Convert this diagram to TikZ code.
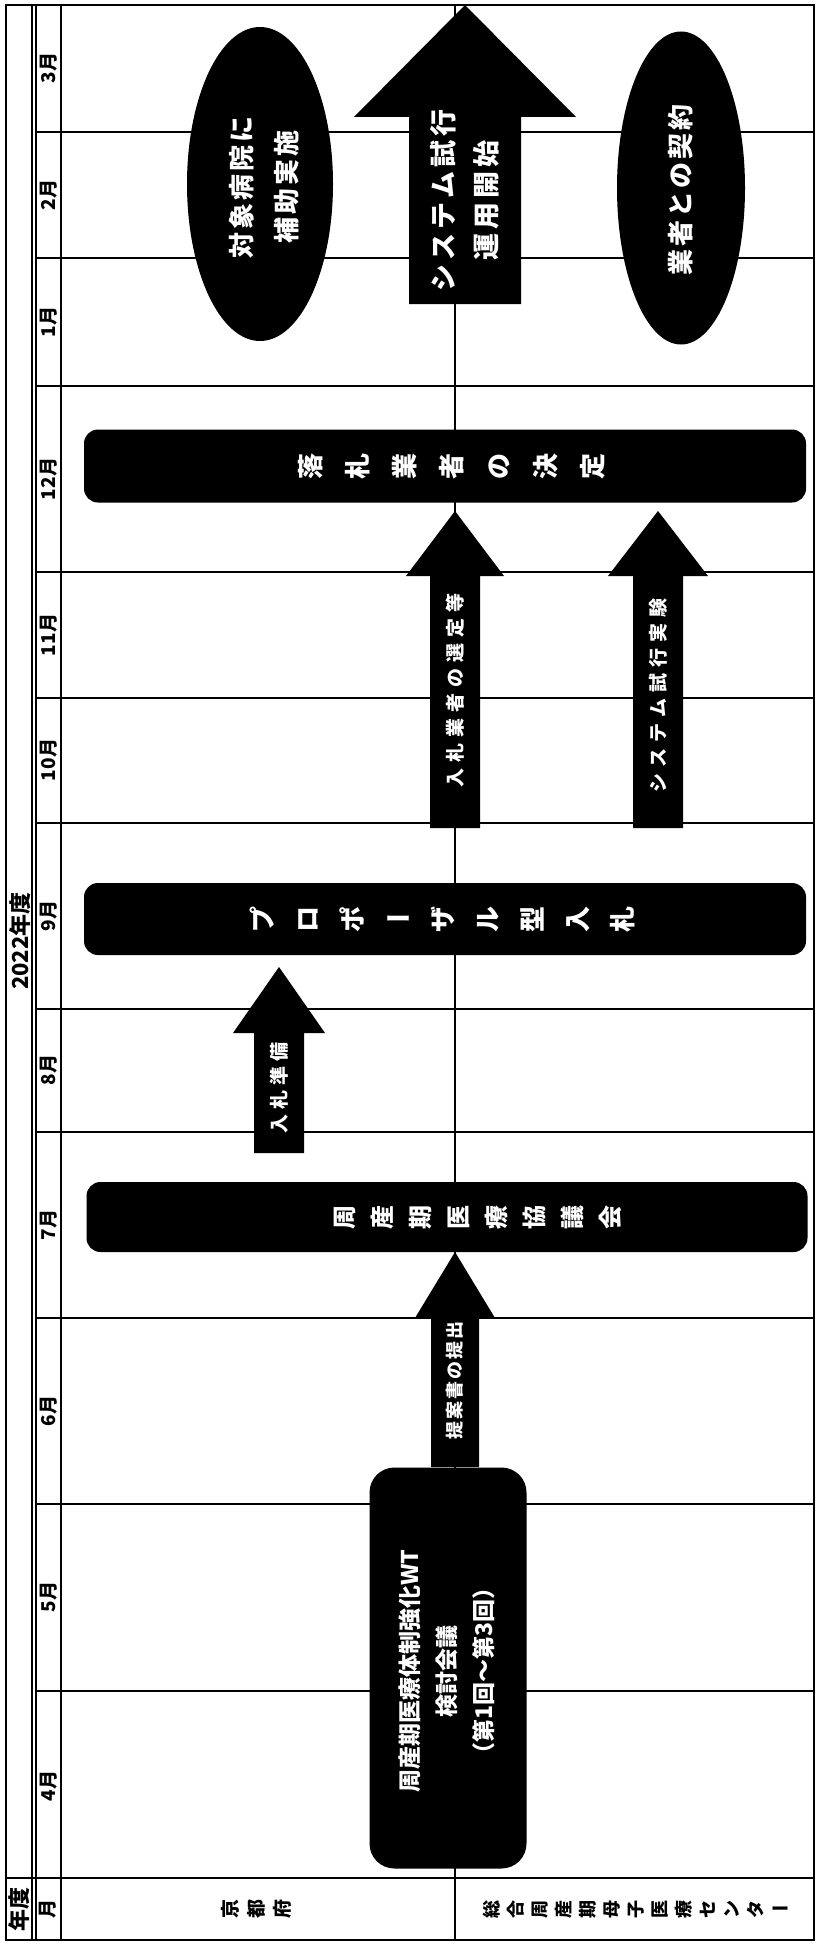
\documentclass[tikz,border=0pt]{standalone}
\usepackage{fontspec}
\setmainfont{Noto Sans CJK JP}
\usetikzlibrary{shapes.geometric}
\ExplSyntaxOn
\NewDocumentCommand\vtxt{O{0pt} m}
 {
  \bool_set_true:N \l_tmpa_bool
  \tl_map_inline:nn {#2}
   {
    \bool_if:NF \l_tmpa_bool { \hspace*{#1} }
    \bool_set_false:N \l_tmpa_bool
    \str_if_eq:nnTF {##1} {ー}
      { \makebox[1em]{##1} }
      { \rotatebox[origin=c]{90}{\vrule~height~.88em~depth~.12em~width~0pt \makebox[1em]{##1}} }
   }
 }
\NewDocumentCommand\ltr{O{0pt} m}
 {
  \bool_set_true:N \l_tmpa_bool
  \tl_map_inline:nn {#2}
   {
    \bool_if:NF \l_tmpa_bool { \hspace*{#1} }
    \bool_set_false:N \l_tmpa_bool
    ##1
   }
 }
\ExplSyntaxOff
\newcommand\fsz[1]{\fontsize{#1}{#1}\selectfont\bfseries}
\newcommand\blockarrow[6]{\fill ({#1},{#2}) -- ({#1+#5},{#3}) -- ({#1+#6},{#3}) -- ({#1+#6},{#4}) -- ({#1-#6},{#4}) -- ({#1-#6},{#3}) -- ({#1-#5},{#3}) -- cycle;}
\tikzset{
  gridline/.style={line width=1.3pt},
  heavyline/.style={line width=2.6pt},
  rbox/.style={fill=black, rounded corners=14pt, inner sep=0pt},
  oval/.style={ellipse, fill=black, inner sep=0pt},
  wtxt/.style={text=white, inner sep=0pt},
  rtxt/.style={rotate=90, inner sep=0pt},
}
\begin{document}
\begin{tikzpicture}[x=1pt,y=-1pt]
\useasboundingbox (0,0) rectangle (817,1945);
% table grid
\foreach \yy in {132,258,386,572,698,823,1009,1318,1504,1691}
  \draw[gridline] (36,\yy) -- (814,\yy);
\draw[heavyline] (36,1132) -- (814,1132);
\draw[heavyline] (6,1878) -- (814,1878);
\draw[gridline] (32,5) -- (32,1940);
\draw[gridline] (36,5) -- (36,1940);
\draw[gridline] (61,5) -- (61,1940);
\draw[gridline] (455,5) -- (455,1940);
\draw[heavyline] (6,5) rectangle (814,1940);
% year / month labels
\node[rtxt, font=\fsz{22}] (year) at (20,941) {2022年度};
\foreach \m/\yy in {3月/68, 2月/195, 1月/322, 12月/479, 11月/635, 10月/760, 9月/916, 8月/1070, 7月/1225, 6月/1411, 5月/1597, 4月/1786}
  \node[rtxt, font=\fsz{19}] (m\yy) at (49,\yy) {\m};
\node[rtxt, font=\fsz{22}] (hyear) at (19,1909) {年度};
\node[rtxt, font=\fsz{19}] (hmonth) at (48,1909) {月};
\node[font=\fsz{19}, inner sep=0pt] (kyoto) at (256,1909) {\vtxt[7pt]{京都府}};
\node[font=\fsz{18}, inner sep=0pt] (center) at (636,1909) {\vtxt[6pt]{総合周産期母子医療センター}};
% top: ellipses and big arrow
\node[oval, minimum width=146pt, minimum height=314pt] (e1) at (260,184) {};
\node[rtxt, wtxt, font={\fontsize{26}{45}\selectfont\bfseries}, align=center] (e1t) at (264,187) {\ltr[3pt]{対象病院に}\\\ltr[3pt]{補助実施}};
\node[oval, minimum width=128pt, minimum height=313pt] (e2) at (681,188) {};
\node[rtxt, wtxt, font=\fsz{26}] (e2t) at (681,190) {\ltr[3pt]{業者との契約}};
\blockarrow{465}{5}{117}{304}{111}{56}
\node[rtxt, wtxt, font={\fontsize{27}{43}\selectfont\bfseries}, align=center] (bigt) at (465,200) {\ltr[4pt]{システム試行}\\\ltr[4pt]{運用開始}};
% 落札業者の決定
\node[rbox, minimum width=722pt, minimum height=73pt] (b3) at (445,466) {};
\node[wtxt, font=\fsz{26}] (b3t) at (452,466) {\vtxt[21pt]{落札業者の決定}};
% arrows to 落札
\blockarrow{455}{511}{576}{828}{49}{25}
\node[rtxt, wtxt, font=\fsz{19}] (a3t) at (455,690) {\ltr[6pt]{入札業者の選定等}};
\blockarrow{658}{511}{576}{828}{50}{25}
\node[rtxt, wtxt, font=\fsz{19}] (a4t) at (658,695) {\ltr[6pt]{システム試行実験}};
% プロポーザル型入札
\node[rbox, minimum width=722pt, minimum height=72pt] (b2) at (445,919) {};
\node[wtxt, font=\fsz{26}] (b2t) at (443,919) {\vtxt[19pt]{プロポーザル型入札}};
% 入札準備
\blockarrow{279}{967}{1033}{1153}{46}{25}
\node[rtxt, wtxt, font=\fsz{19}] (a2t) at (279,1088) {\ltr[5pt]{入札準備}};
% 周産期医療協議会
\node[rbox, minimum width=721pt, minimum height=70pt] (b1) at (447,1217) {};
\node[wtxt, font=\fsz{24}] (b1t) at (477,1217) {\vtxt[14pt]{周産期医療協議会}};
% 提案書の提出
\blockarrow{455}{1252}{1318}{1467}{40}{24}
\node[rtxt, wtxt, font=\fsz{18}] (a1t) at (455,1380) {\ltr[2pt]{提案書の提出}};
% WT box
\node[rbox, rounded corners=25pt, minimum width=157pt, minimum height=401pt] (b0) at (448,1668) {};
\node[rtxt, wtxt, font={\fontsize{23}{37}\selectfont\bfseries}, align=center] (b0t) at (447,1671) {周産期医療体制強化WT\\検討会議\\（第1回～第3回）};
\end{tikzpicture}
\end{document}
